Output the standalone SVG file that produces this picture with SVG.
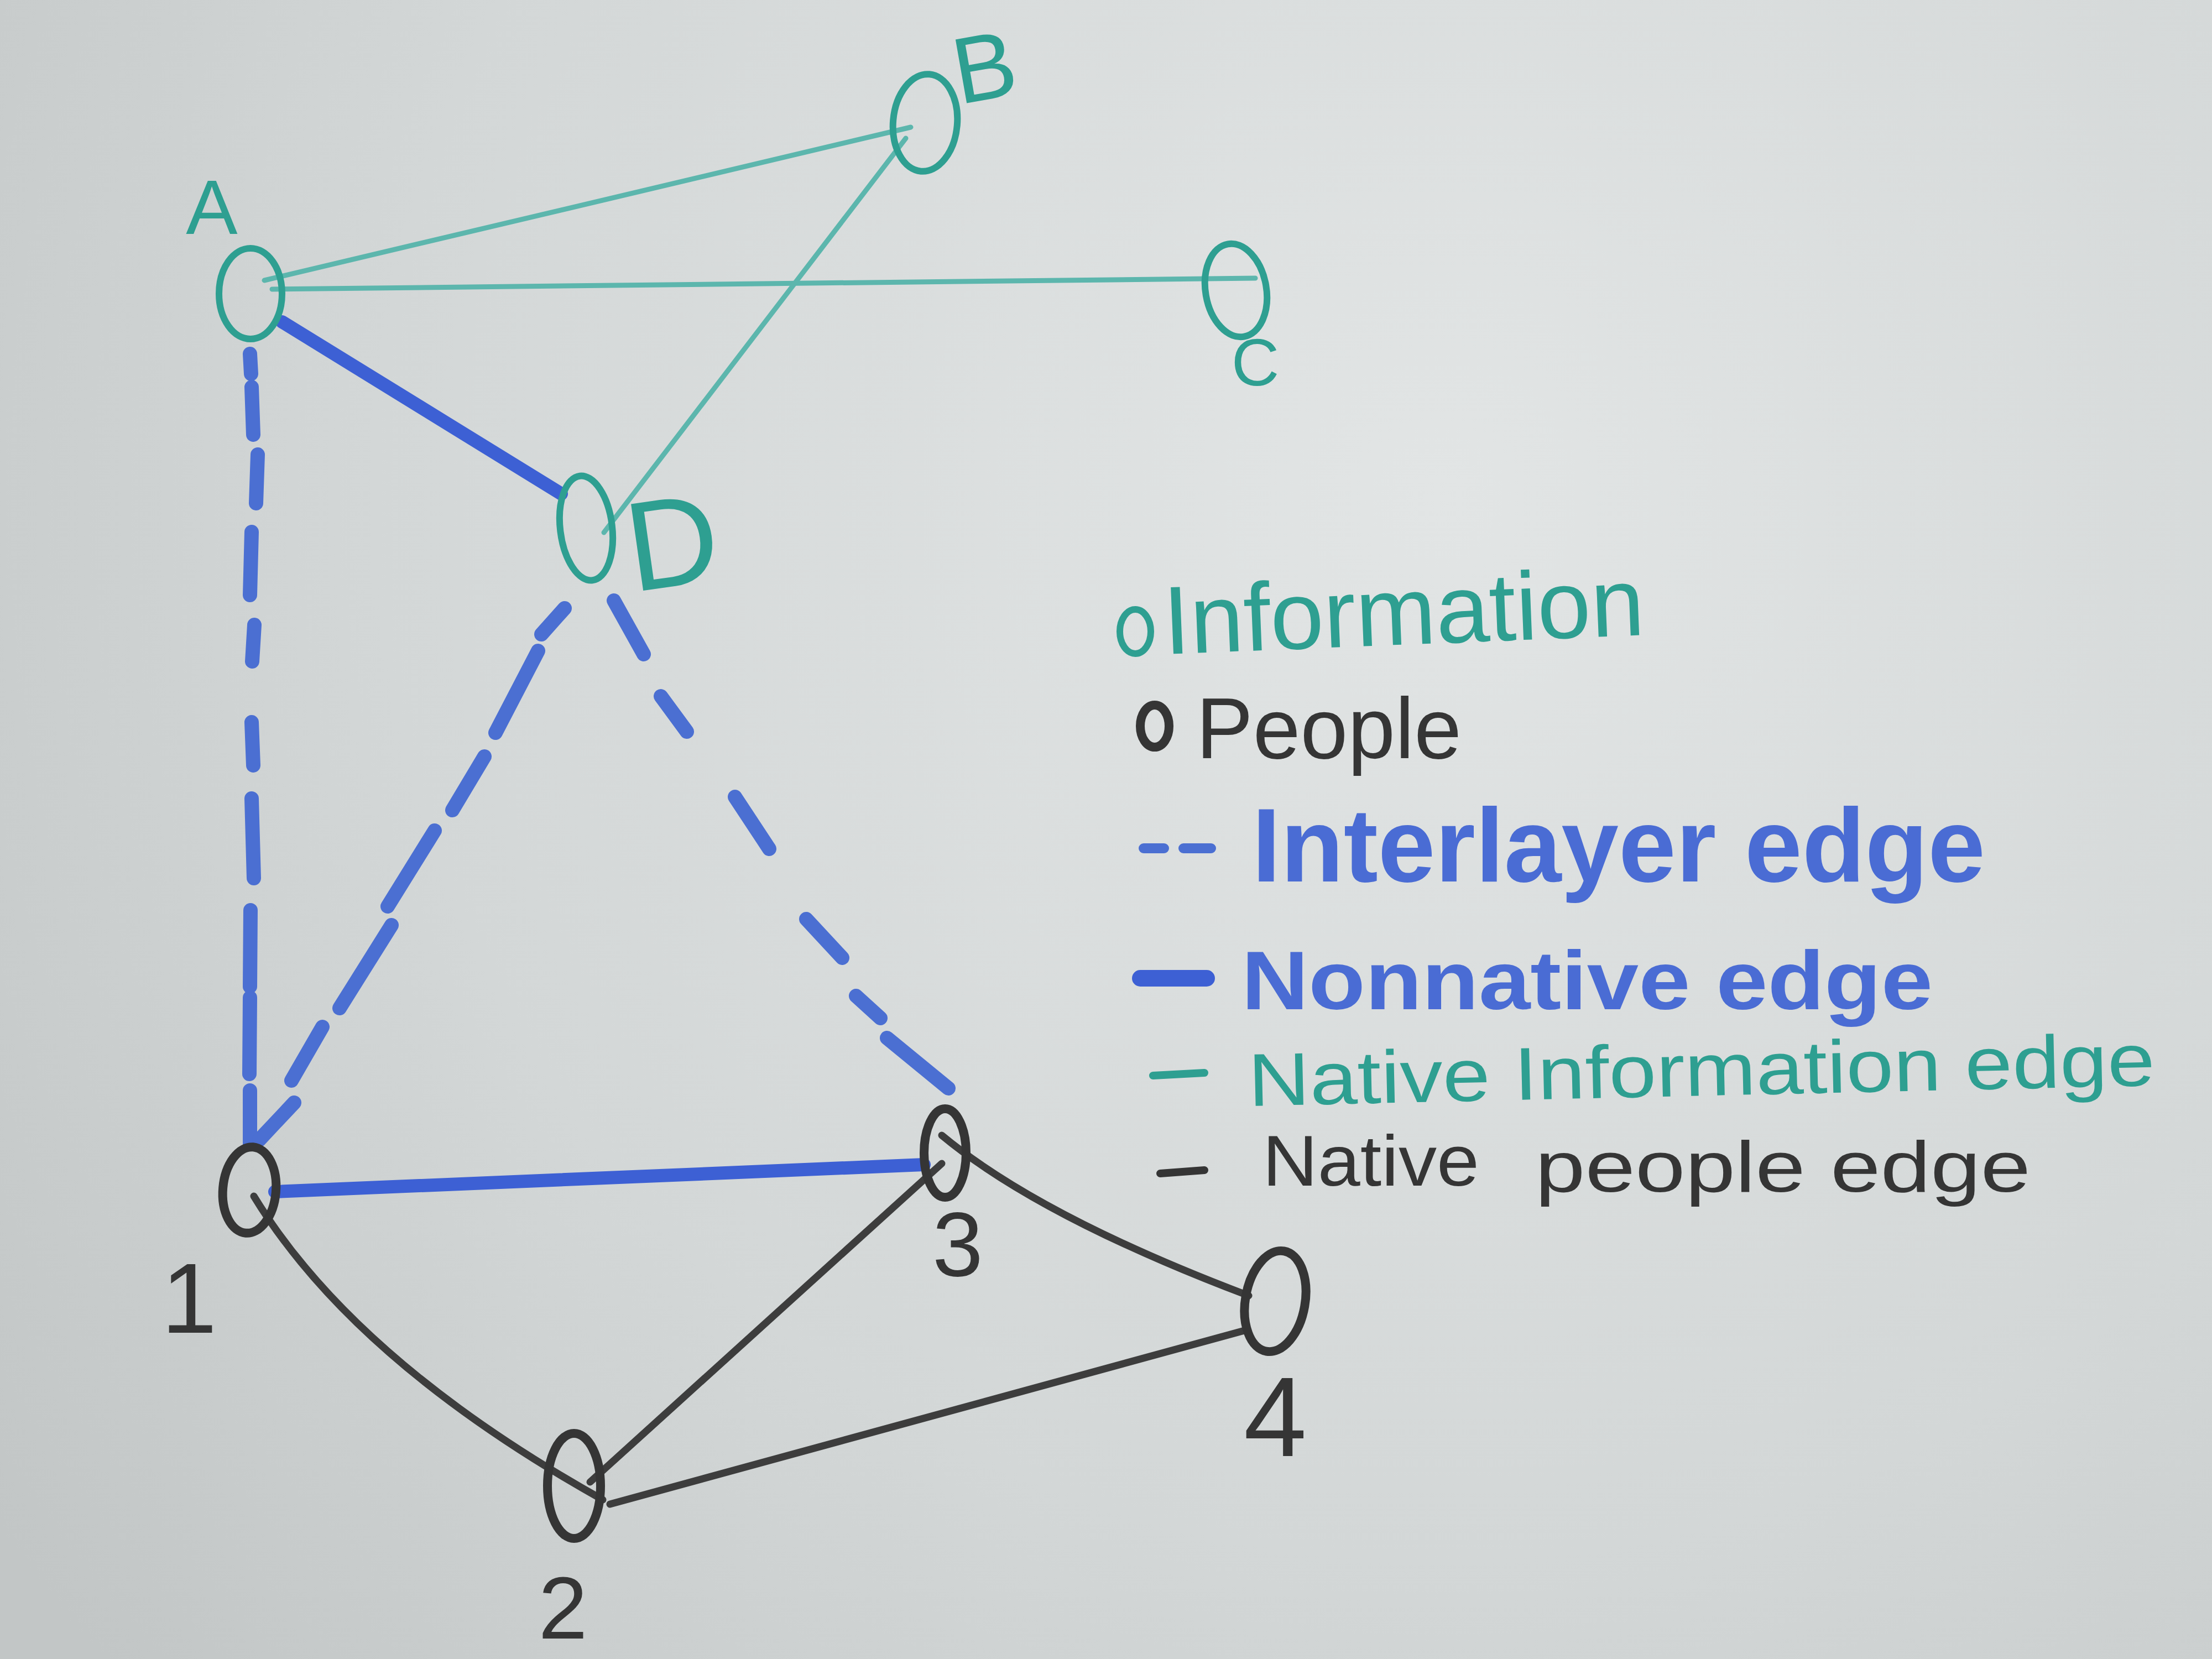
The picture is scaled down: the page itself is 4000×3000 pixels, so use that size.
<svg xmlns="http://www.w3.org/2000/svg" width="4000" height="3000" viewBox="0 0 4000 3000">
<defs>
<radialGradient id="bg" cx="2600" cy="900" r="3200" gradientUnits="userSpaceOnUse">
<stop offset="0" stop-color="#e2e5e5"/>
<stop offset="0.6" stop-color="#d3d7d7"/>
<stop offset="1" stop-color="#c2c6c6"/>
</radialGradient>
</defs>
<style>
.info{fill:none;stroke:#2e9f91;stroke-width:12}
.ppl{fill:none;stroke:#353535;stroke-width:16}
.tl{fill:none;stroke:#5cb6ad;stroke-width:9;stroke-linecap:round}
.pl{fill:none;stroke:#3d3d3d;stroke-width:13;stroke-linecap:round}
.nn{fill:none;stroke:#3d60d4;stroke-width:24;stroke-linecap:round}
.il{fill:none;stroke:#4b6fd2;stroke-width:26;stroke-linecap:round}
.t{font-family:"Liberation Sans","DejaVu Sans",sans-serif}
.tt{fill:#2e9f91}
.tp{fill:#353535}
.tb{fill:#4a6cd4;font-weight:bold}
</style>
<rect x="0" y="0" width="4000" height="3000" fill="url(#bg)"/>
<g id="connectors">
<line class="tl" x1="478" y1="507" x2="1647" y2="230"/>
<line class="tl" x1="492" y1="523" x2="2270" y2="503"/>
<line class="tl" x1="1638" y1="250" x2="1092" y2="963"/>
<line class="nn" x1="510" y1="582" x2="1015" y2="893"/>
<line class="nn" x1="497" y1="2155" x2="1671" y2="2106"/>
<path class="il" d="M452 640 L454 676 M455 700 L458 786 M466 822 L463 910 M455 962 L452 1076 M460 1130 L456 1196 M455 1306 L458 1384 M455 1444 L459 1588 M453 1646 L452 1784 M452 1804 L451 1942 M452 1972 L452 2068"/>
<path class="il" d="M1021 1100 L979 1147 M973 1177 L896 1325 M876 1368 L818 1465 M786 1502 L701 1639 M708 1673 L614 1823 M583 1857 L527 1954 M532 1994 L469 2061"/>
<path class="il" d="M1110 1086 L1164 1183 M1195 1259 L1242 1323 M1329 1441 L1391 1535 M1458 1662 L1523 1732 M1548 1801 L1592 1841 M1604 1877 L1715 1968"/>
<path class="pl" d="M459 2163 Q640 2460 1090 2712"/>
<line class="pl" x1="1067" y1="2680" x2="1703" y2="2104"/>
<line class="pl" x1="1103" y1="2720" x2="2254" y2="2405"/>
<path class="pl" d="M1703 2053 Q1880 2200 2258 2343"/>
</g>
<g id="node-A">
<ellipse class="info" cx="453" cy="531" rx="57" ry="82"/>
<text class="t tt" x="383" y="423" font-size="140" text-anchor="middle">A</text>
</g>
<g id="node-B">
<ellipse class="info" cx="1673" cy="222" rx="58" ry="88" transform="rotate(5 1673 222)"/>
<text class="t tt" x="1780" y="180" font-size="170" text-anchor="middle" transform="rotate(-10 1780 120)">B</text>
</g>
<g id="node-C">
<ellipse class="info" cx="2235" cy="525" rx="55" ry="85" transform="rotate(-10 2235 525)"/>
<text class="t tt" x="2270" y="697" font-size="120" text-anchor="middle">C</text>
</g>
<g id="node-D">
<ellipse class="info" cx="1060" cy="955" rx="47" ry="95" transform="rotate(-7 1060 955)"/>
<text class="t tt" x="1215" y="1060" font-size="230" text-anchor="middle" transform="rotate(-8 1215 975)">D</text>
</g>
<g id="node-1">
<ellipse class="ppl" cx="451" cy="2152" rx="48" ry="78" transform="rotate(5 451 2152)"/>
<text class="t tp" x="342" y="2410" font-size="180" text-anchor="middle">1</text>
</g>
<g id="node-2">
<ellipse class="ppl" cx="1038" cy="2687" rx="48" ry="95"/>
<text class="t tp" x="1018" y="2963" font-size="160" text-anchor="middle">2</text>
</g>
<g id="node-3">
<ellipse class="ppl" cx="1709" cy="2085" rx="38" ry="80"/>
<text class="t tp" x="1732" y="2307" font-size="165" text-anchor="middle">3</text>
</g>
<g id="node-4">
<ellipse class="ppl" cx="2306" cy="2353" rx="54" ry="92" transform="rotate(10 2306 2353)"/>
<text class="t tp" x="2306" y="2633" font-size="205" text-anchor="middle">4</text>
</g>
<g id="legend">
<ellipse class="info" cx="2053" cy="1142" rx="28" ry="40"/>
<text class="t tt" x="2106" y="1183" font-size="175" textLength="870" lengthAdjust="spacingAndGlyphs" transform="rotate(-2.3 2106 1183)">Information</text>
<ellipse class="ppl" cx="2088" cy="1313" rx="26" ry="38" stroke-width="12"/>
<text class="t tp" x="2163" y="1371" font-size="155" textLength="480" lengthAdjust="spacingAndGlyphs">People</text>
<path d="M2068 1534 L2105 1534 M2140 1534 L2190 1534" fill="none" stroke="#4b6fd2" stroke-width="18" stroke-linecap="round"/>
<text class="t tb" x="2264" y="1594" font-size="190" textLength="1326" lengthAdjust="spacingAndGlyphs">Interlayer edge</text>
<line x1="2062" y1="1769" x2="2182" y2="1769" stroke="#3d60d4" stroke-width="30" stroke-linecap="round"/>
<text class="t tb" x="2245" y="1825" font-size="150" textLength="1250" lengthAdjust="spacingAndGlyphs">Nonnative edge</text>
<line x1="2085" y1="1945" x2="2178" y2="1940" stroke="#2e9f91" stroke-width="14" stroke-linecap="round"/>
<text class="t tt" x="2258" y="2000" font-size="135" textLength="1640" lengthAdjust="spacingAndGlyphs" transform="rotate(-1.3 2258 2000)">Native Information edge</text>
<line x1="2098" y1="2122" x2="2178" y2="2116" stroke="#353535" stroke-width="14" stroke-linecap="round"/>
<text class="t tp" font-size="130"><tspan x="2283" y="2144" textLength="392" lengthAdjust="spacingAndGlyphs">Native</tspan><tspan x="2776" y="2155" textLength="896" lengthAdjust="spacingAndGlyphs">people edge</tspan></text>
</g>
</svg>
